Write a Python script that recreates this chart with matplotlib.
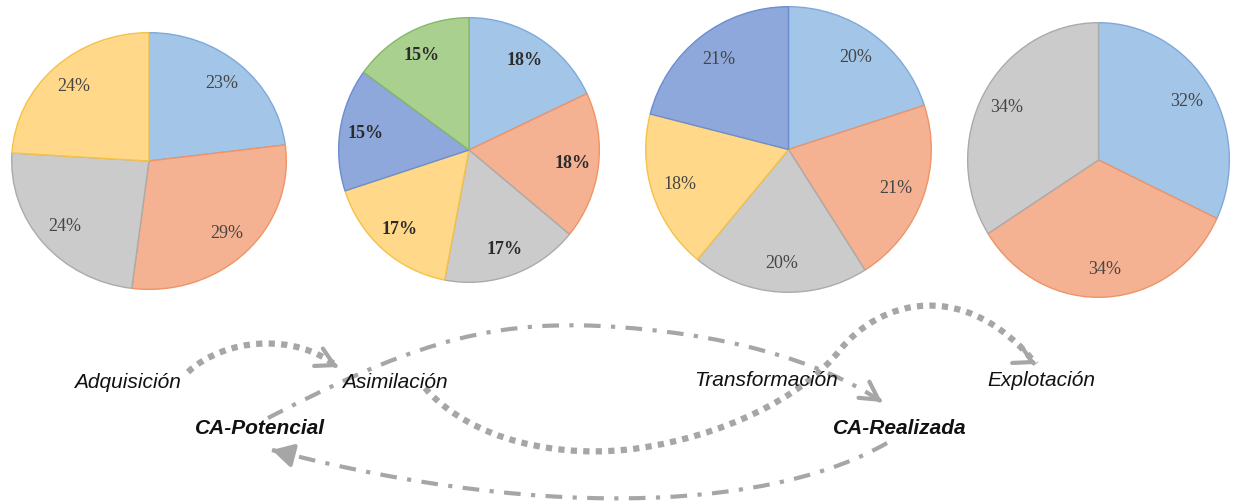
import numpy as np
import matplotlib.pyplot as plt
from matplotlib.path import Path
from matplotlib.patches import PathPatch

# porcentajes de cada gráfico (en sentido horario desde arriba)
adq_vals = [23, 29, 24, 24]
asi_vals = [18, 18, 17, 17, 15, 15]
tra_vals = [20, 21, 20, 18, 21]
exp_vals = [32, 34, 34]

fases = ['Adquisición', 'Asimilación', 'Transformación', 'Explotación']
grupos = ['CA-Potencial', 'CA-Realizada']

fill = ['#A3C6E8', '#F5B292', '#CBCBCB', '#FFD88A', '#8EA8DC', '#A9D08F']
edge = ['#7EA9DA', '#EE9466', '#ABABAB', '#F5C246', '#6C8DCF', '#86B868']

W, H = 1239, 504
fig = plt.figure(figsize=(W / 100, H / 100), dpi=100)

def pie_axes(l, t, r, b):
    return fig.add_axes([l / W, 1 - b / H, (r - l) / W, (b - t) / H])

def draw_pie(ax, vals, idx, bold=False):
    wedges, _, autot = ax.pie(vals, colors=[fill[i] for i in idx], startangle=90,
                              counterclock=False, autopct='%.0f%%', pctdistance=0.8,
                              wedgeprops=dict(linewidth=1.0),
                              textprops=dict(family='Liberation Serif', fontsize=13,
                                             color='#2b2b2b' if bold else '#454545',
                                             weight='bold' if bold else 'normal'))
    for w, i in zip(wedges, idx):
        w.set_edgecolor(edge[i])
    ax.set_aspect('auto')
    ax.set_xlim(-1.005, 1.005)
    ax.set_ylim(-1.005, 1.005)

draw_pie(pie_axes(11, 32, 287, 290), adq_vals, [0, 1, 2, 3])
draw_pie(pie_axes(338, 17, 600, 283), asi_vals, [0, 1, 2, 3, 4, 5], bold=True)
draw_pie(pie_axes(645, 6, 932, 293), tra_vals, [0, 1, 2, 3, 4])
draw_pie(pie_axes(967, 22, 1230, 298), exp_vals, [0, 1, 2])

# capa de texto y flechas en píxeles
ax = fig.add_axes([0, 0, 1, 1])
ax.set_xlim(0, W)
ax.set_ylim(H, 0)
ax.axis('off')

gris = '#A6A6A6'
fase_xy = [(127, 382), (395, 382), (766, 380), (1041, 380)]
for t, (x, y) in zip(fases, fase_xy):
    ax.text(x, y, t, ha='center', va='center', fontsize=15, style='italic',
            family='Liberation Sans', color='#111111')
grupo_xy = [(260, 428), (900, 428)]
for t, (x, y) in zip(grupos, grupo_xy):
    ax.text(x, y, t, ha='center', va='center', fontsize=15, style='italic',
            weight='bold', family='Liberation Sans', color='#111111')

def curva(pts, ls, lw, head, hw=0.5, hl=0.9, dirn=None):
    codes = [Path.MOVETO] + [Path.CURVE4] * (len(pts) - 1)
    ax.add_patch(PathPatch(Path(pts, codes), fill=False, edgecolor=gris,
                           linewidth=lw, linestyle=ls, capstyle='butt'))
    end = np.array(pts[-1], float)
    d = np.array(dirn, float) if dirn else end - np.array(pts[-2], float)
    d = d / np.hypot(*d)
    ax.annotate('', xy=end, xytext=end - d * 3,
                arrowprops=dict(arrowstyle=f'{head},head_width={hw},head_length={hl}',
                                color=gris, lw=3, shrinkA=0, shrinkB=0,
                                mutation_scale=14))

punteado = (0, (1, 1))
rayapunto = (0, (4, 2.5, 1, 2.5))

curva([(188, 372), (225, 338), (295, 332), (338, 367)], punteado, 4.5, '->',
      dirn=(1, 0.5))
curva([(425, 388), (470, 440), (560, 460), (640, 448),
       (720, 436), (800, 400), (840, 350),
       (880, 300), (965, 277), (1036, 364)], punteado, 4.5, '->', dirn=(1, 0.5))
curva([(268, 418), (400, 350), (480, 320), (600, 326),
       (720, 332), (820, 360), (882, 402)], rayapunto, 3, '->')
curva([(887, 443), (780, 505), (560, 525), (272, 450)], rayapunto, 3, '-|>',
      hw=0.5, hl=0.9)

fig.savefig('out.png', dpi=100)
